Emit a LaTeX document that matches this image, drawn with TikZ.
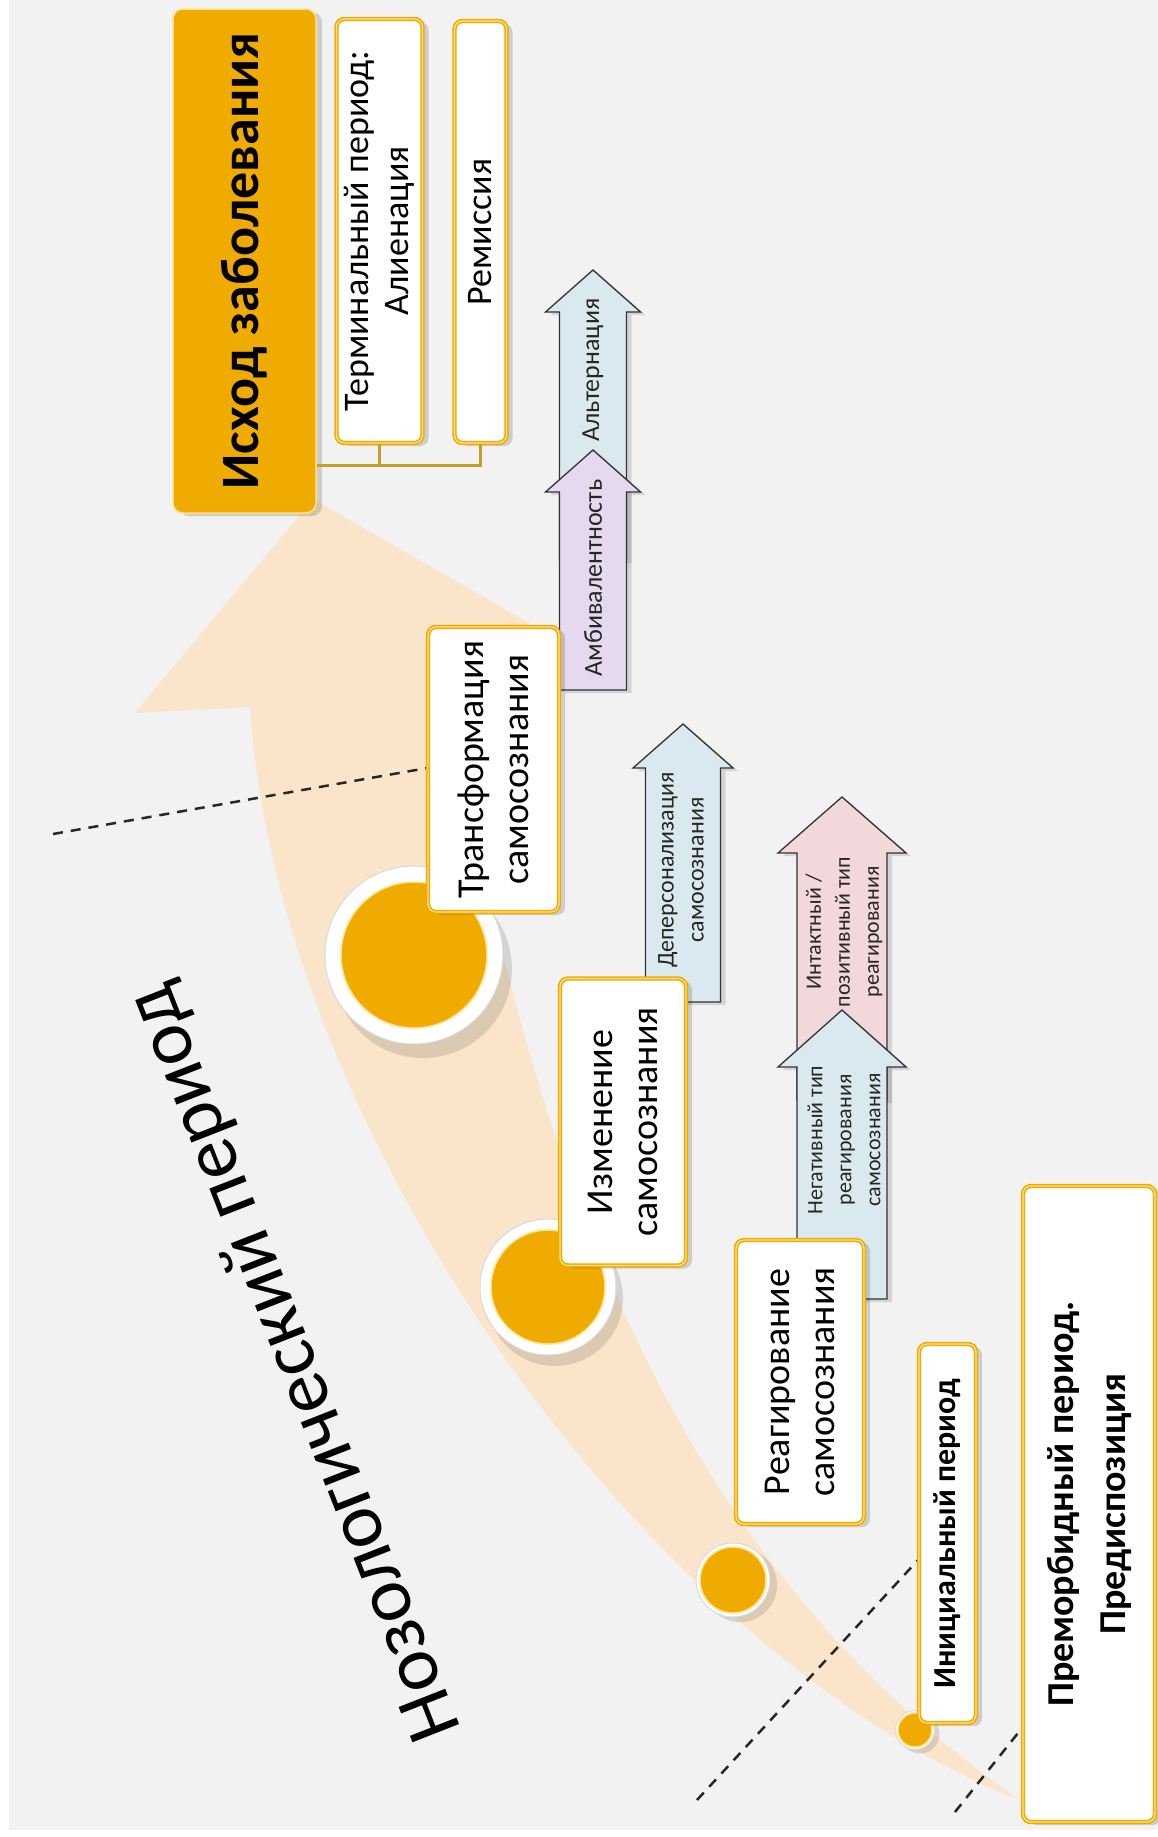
\documentclass[tikz,border=0pt]{standalone}
\usepackage{fontspec}
\setmainfont{Carlito}
\usetikzlibrary{calc,shadows}
\definecolor{bg}{RGB}{242,242,242}
\definecolor{beige}{RGB}{251,229,202}
\definecolor{gold}{RGB}{240,171,0}
\definecolor{goldlight}{RGB}{255,226,140}
\definecolor{connc}{RGB}{196,160,40}
\definecolor{arrblue}{RGB}{218,233,239}
\definecolor{arrlav}{RGB}{229,217,239}
\definecolor{arrpink}{RGB}{242,216,219}
\newcommand\BlockArrow[7]{%
  \filldraw[blockline, fill=#1] ({#2-#6},#5) -- ({#2-#6},#4) -- ({#2-#7},#4) -- (#2,#3) -- ({#2+#7},#4) -- ({#2+#6},#4) -- ({#2+#6},#5) -- cycle;}
\begin{document}
\begin{tikzpicture}[x=1pt,y=-1pt,
  boxshadow/.style={drop shadow={shadow xshift=6pt,shadow yshift=-3pt,opacity=0.15,fill=black}},
  stagebox/.style={rounded corners=8pt, fill=white, draw=gold, line width=1.6pt, double=goldlight, double distance=1.2pt,
     inner sep=0pt, rotate=90, align=center, text=black, font=\fontsize{38}{45}\selectfont, boxshadow},
  topbox/.style={rounded corners=10pt, fill=gold, draw=goldlight, line width=1.5pt, inner sep=0pt, rotate=90,
     align=center, text=black, font=\bfseries\fontsize{54}{60}\selectfont, boxshadow},
  ring/.style={circle, fill=white, draw=black!15, line width=1pt, inner sep=0pt},
  dot/.style={circle, fill=gold, draw=goldlight, line width=1.5pt, inner sep=0pt},
  dashedline/.style={black!85, line width=2.5pt, dash pattern=on 10pt off 8pt},
  conn/.style={connc, line width=3pt},
  blockline/.style={draw=black!80, line width=1.3pt, line join=miter,
     drop shadow={shadow xshift=5pt,shadow yshift=-3pt,opacity=0.12,fill=black}},
  atext/.style={rotate=90, align=center, inner sep=0pt, text=black!85}
]
\useasboundingbox (0,0) rectangle (1158,1837);
\fill[white] (0,0) rectangle (1158,1837);
\fill[bg] (9,0) rectangle (1158,1830);

% big curved arrow
\fill[beige] (313,499) -- (555,638) -- (445,675) .. controls (520,1100) and (640,1540) .. (1020,1800)
  .. controls (660,1660) and (280,1150) .. (250,707) -- (135,713) -- cycle;

% title
\node[rotate=111.4, font=\fontsize{78}{90}\selectfont, inner sep=0pt] (title) at (296,1362) {Нозологический период};

% dashed lines
\coordinate (d1s) at (53,834);   \coordinate (d1e) at (450,764);
\coordinate (d2s) at (697,1800); \coordinate (d2e) at (930,1547);
\coordinate (d3s) at (955,1812); \coordinate (d3e) at (1030,1718);
\draw[dashedline] (d1s) -- (d1e);
\draw[dashedline] (d2s) -- (d2e);
\draw[dashedline] (d3s) -- (d3e);

% circles
\node[ring, minimum size=178pt, drop shadow={shadow xshift=9pt,shadow yshift=-14pt,opacity=0.12,fill=black}] (c1r) at (414,955) {};
\node[dot, minimum size=146pt] (c1) at (414,955) {};
\node[ring, minimum size=136pt, drop shadow={shadow xshift=7pt,shadow yshift=-11pt,opacity=0.12,fill=black}] (c2r) at (548,1287) {};
\node[dot, minimum size=114pt] (c2) at (548,1287) {};
\node[ring, minimum size=74pt, drop shadow={shadow xshift=7pt,shadow yshift=-5pt,opacity=0.12,fill=black}] (c3r) at (733,1580) {};
\node[dot, minimum size=66pt] (c3) at (733,1580) {};
\node[ring, minimum size=39pt, drop shadow={shadow xshift=5pt,shadow yshift=-4pt,opacity=0.12,fill=black}] (c4r) at (915,1730) {};
\node[dot, minimum size=34pt] (c4) at (915,1730) {};

% block arrows
\BlockArrow{arrblue}{593}{270}{312}{560}{33.5}{47.5}
\BlockArrow{arrlav}{593}{450}{492}{690}{33.5}{47.5}
\BlockArrow{arrblue}{683}{724}{768}{1002}{37.5}{50}
\BlockArrow{arrpink}{842}{797}{853}{1100}{45}{64}
\BlockArrow{arrblue}{842}{1010}{1067}{1299}{45}{64}

\node[atext, font=\fontsize{26}{30}\selectfont] (alt) at (593,370) {Альтернация};
\node[atext, font=\fontsize{26}{30}\selectfont] (amb) at (593,578) {Амбивалентность};
\node[atext, font=\fontsize{24}{30}\selectfont] (dep) at (681,870) {Деперсонализация\\самосознания};
\node[atext, font=\fontsize{22}{29}\selectfont] (int) at (844,932) {Интактный /\\позитивный тип\\реагирования};
\node[atext, font=\fontsize{22}{29}\selectfont] (neg) at (844,1140) {Негативный тип\\реагирования\\самосознания};

% outcome
\node[topbox, minimum width=504pt, minimum height=143pt] (isxod) at (244.5,261) {Исход заболевания};
\node[stagebox, font=\fontsize{36}{40}\selectfont, minimum width=424pt, minimum height=86pt] (term) at (379.5,231) {Терминальный период:\\Алиенация};
\node[stagebox, font=\fontsize{36}{40}\selectfont, minimum width=422pt, minimum height=52pt] (rem) at (480.5,232) {Ремиссия};
\coordinate (cj) at ($(isxod.south west)!0.095!(isxod.south east)$);
\draw[conn] (cj) -| (rem.west);
\draw[conn] (term.west) -- (term.west |- cj);

% stages
\node[stagebox, minimum width=285pt, minimum height=131pt] (trans) at (493.5,769.5) {Трансформация\\самосознания};
\node[stagebox, minimum width=287pt, minimum height=126pt] (izm) at (623,1122) {Изменение\\самосознания};
\node[stagebox, minimum width=284pt, minimum height=128pt] (reag) at (800,1382) {Реагирование\\самосознания};
\node[stagebox, font=\bfseries\fontsize{32}{36}\selectfont, minimum width=379pt, minimum height=57pt] (init) at (947.5,1533.5) {Инициальный период};
\node[stagebox, font=\bfseries\fontsize{38}{52}\selectfont, minimum width=636pt, minimum height=132pt] (premorb) at (1089,1504) {Преморбидный период.\\Предиспозиция};
\end{tikzpicture}
\end{document}
